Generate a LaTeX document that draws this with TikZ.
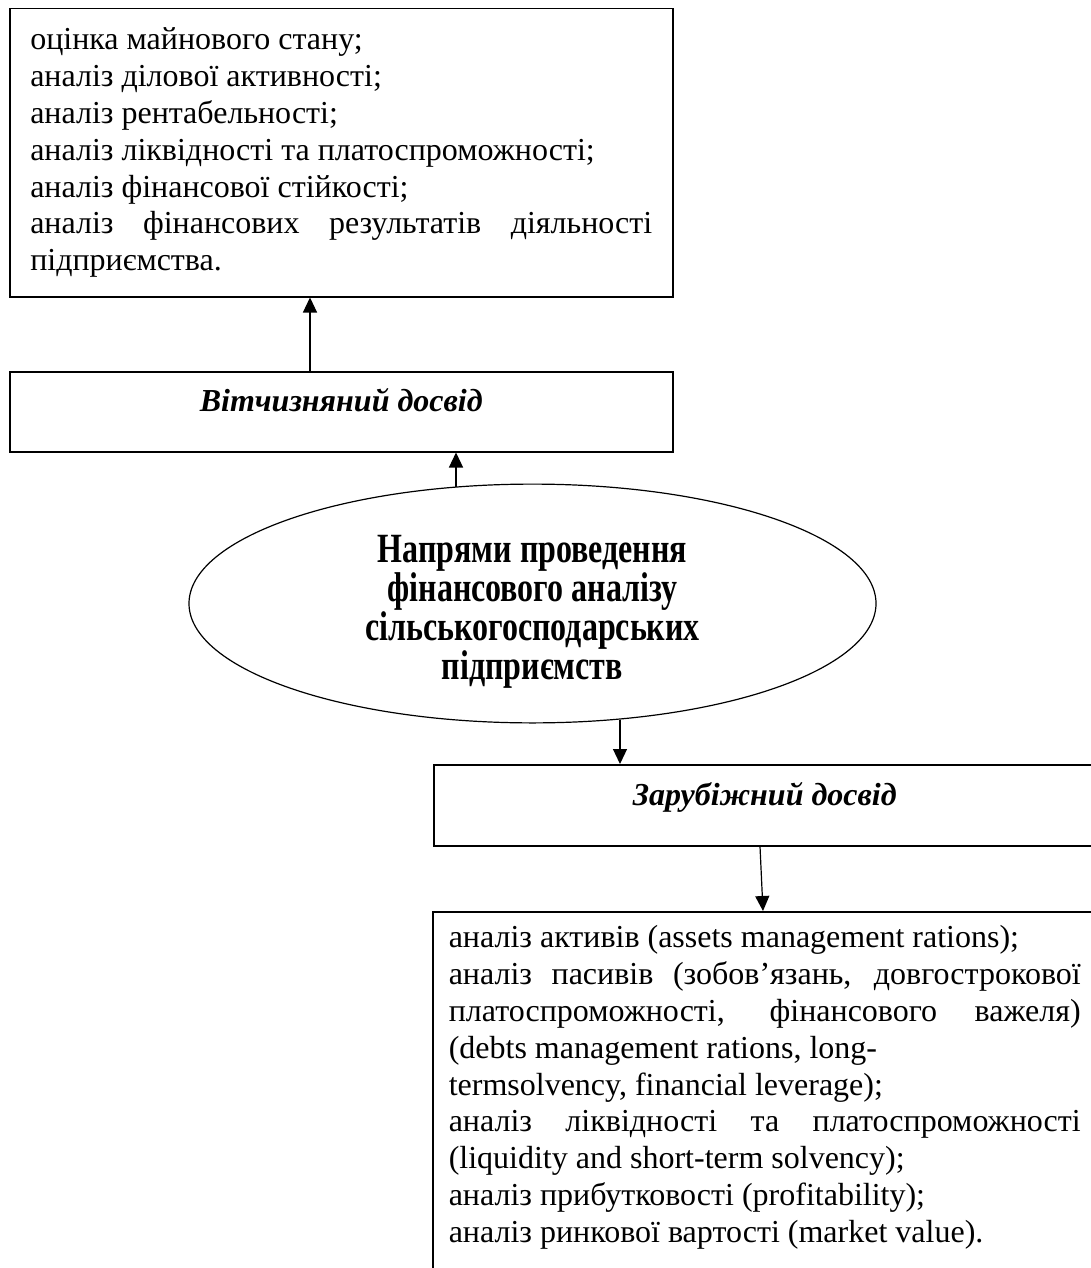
\documentclass[tikz,border=0pt]{standalone}
\usepackage{fontspec}
\usepackage{graphicx}
\setmainfont{Liberation Serif}
\usetikzlibrary{arrows.meta,calc,shapes.geometric}
\newcommand{\natsp}{\spaceskip=0pt\relax\xspaceskip=0pt\relax}
\newcommand{\jline}[2][622pt]{\makebox[#1][s]{\natsp#2}}
\newcommand{\tallline}[1]{\scalebox{1}[1.3]{#1}}
\tikzset{
  txtfont/.style={font=\fontsize{32}{36.8}\selectfont},
  boxnode/.style={draw, line width=1.5pt, rectangle, txtfont, inner ysep=0pt},
  listbox/.style={boxnode, text width=622pt, inner xsep=20.5pt, align=left},
  headbox/.style={boxnode, minimum height=80pt, align=center,
    font=\fontsize{32}{36.8}\selectfont\bfseries\itshape,
    text height=24pt, text depth=24pt},
  oval/.style={draw, ellipse, line width=1.2pt, inner sep=0pt, align=center,
    font=\fontsize{32}{37}\selectfont\bfseries},
  arr/.style={line width=1.2pt, -{Triangle[length=15pt,width=14pt]}}
}
\begin{document}
\begin{tikzpicture}[x=1pt,y=-1pt]
\useasboundingbox (0,0) rectangle (1091,1268);
\clip (0,0) rectangle (1091,1268);
\fill[white] (0,0) rectangle (1091,1268);

\node[listbox, minimum width=663pt, minimum height=288pt, anchor=north west] (top) at (9,8) {\natsp
оцінка майнового стану;\\
аналіз ділової активності;\\
аналіз рентабельності;\\
аналіз ліквідності та платоспроможності;\\
аналіз фінансової стійкості;\\
\jline{аналіз фінансових результатів діяльності}\\
підприємства.};

\node[headbox, minimum width=663pt, anchor=north west] (vit) at (9,371) {Вітчизняний досвід};

\node[oval, minimum width=687pt, minimum height=233pt, text height=160pt] (ell) at (532.5,603.5)
  {\tallline{Напрями проведення}\\\tallline{фінансового аналізу}\\\tallline{сільськогосподарських}\\\tallline{підприємств}};

\node[headbox, minimum width=662pt, minimum height=81pt, anchor=north west] (zar) at (433,764) {Зарубіжний досвід};

\node[listbox, text width=632pt, inner xsep=16pt, inner ysep=14pt, text depth=380pt, anchor=north west] (bot) at (432,911) {\natsp
аналіз активів (assets management rations);\\
\jline[632pt]{аналіз пасивів (зобов’язань, довгострокової}\\
\jline[632pt]{платоспроможності, фінансового важеля)}\\
(debts management rations, long-\\
termsolvency, financial leverage);\\
\jline[632pt]{аналіз ліквідності та платоспроможності}\\
(liquidity and short-term solvency);\\
аналіз прибутковості (profitability);\\
аналіз ринкової вартості (market value).};

\draw[arr] ($(vit.north west)+(301,0)$) -- ($(top.south west)+(301,0)$);
\draw[arr] ($(ell.north)+(-76.5,3)$) -- ($(vit.south west)+(447,0)$);
\draw[arr] ($(ell.south)+(87.5,-4)$) -- ($(zar.north west)+(187,0)$);
\draw[arr] ($(zar.south west)+(327,0)$) -- ($(bot.north west)+(331,0)$);
\end{tikzpicture}
\end{document}
